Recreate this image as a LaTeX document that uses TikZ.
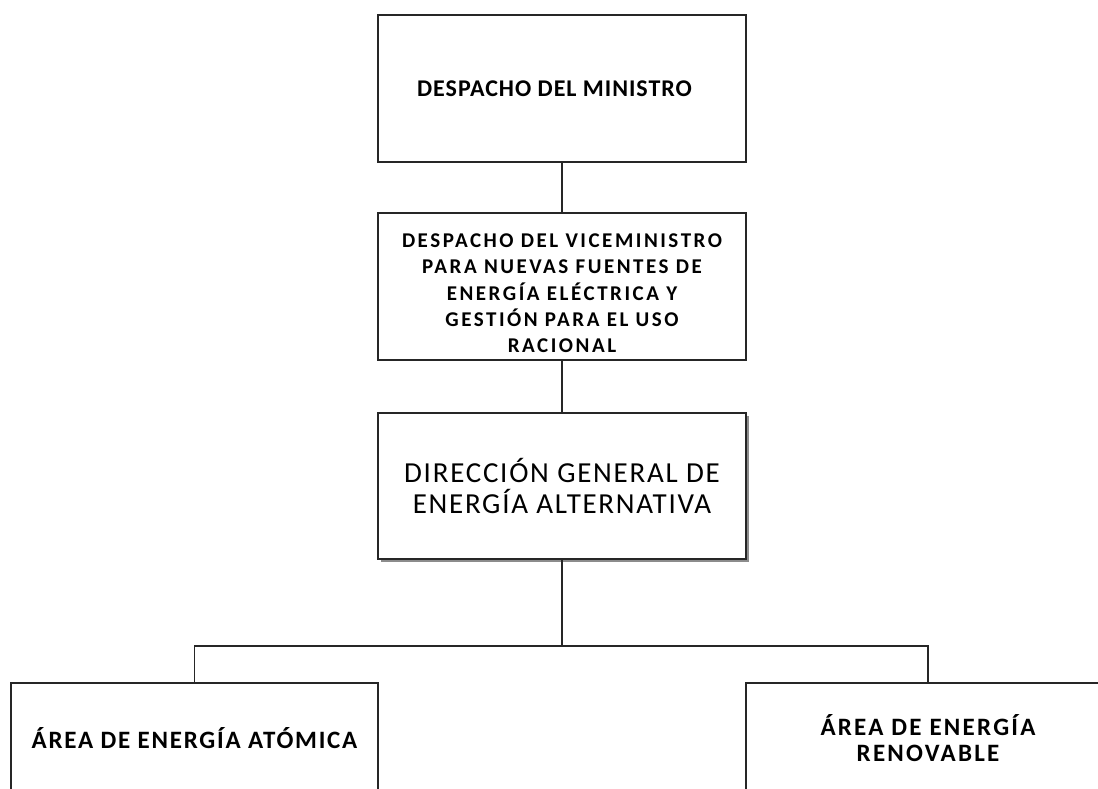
\documentclass[tikz,border=0pt]{standalone}
\usepackage{fontspec}
\setmainfont{Carlito}
\usetikzlibrary{shadows}
\begin{document}
\begin{tikzpicture}[x=1pt,y=-1pt,
  box/.style={draw=black!85,line width=1.6pt,fill=white,align=center,inner sep=0pt},
  conn/.style={draw=black!85,line width=1.6pt},
  sh/.style={drop shadow={shadow xshift=3pt,shadow yshift=-3pt,fill=black!45,opacity=1}}]
\useasboundingbox (0,0) rectangle (1098,788);
\clip (0,0) rectangle (1098,788);
\node[box,minimum width=368pt,minimum height=147pt,
  font={\fontsize{24}{28}\selectfont\bfseries\addfontfeature{LetterSpace=4}}] (m) at (562,88.5)
  {DESPACHO DEL MINISTRO\hspace*{15pt}};
\node[box,minimum width=368pt,minimum height=147pt,
  font={\fontsize{21}{26.3}\selectfont\bfseries\addfontfeature{LetterSpace=12}}] (v) at (562,286.5)
  {\rule{0pt}{27.5pt}DESPACHO DEL VICEMINISTRO\\PARA NUEVAS FUENTES DE\\ENERGÍA ELÉCTRICA Y\\GESTIÓN PARA EL USO\\RACIONAL};
\node[box,sh,minimum width=368pt,minimum height=146pt,
  font={\fontsize{29}{31.5}\selectfont\addfontfeature{LetterSpace=6}}] (d) at (562,486)
  {DIRECCIÓN GENERAL DE\\ENERGÍA ALTERNATIVA};
\node[box,minimum width=367pt,minimum height=110pt,
  font={\fontsize{25}{27}\selectfont\bfseries\addfontfeature{LetterSpace=7}}] (a) at (194.5,738)
  {ÁREA DE ENERGÍA ATÓMICA};
\node[box,minimum width=364pt,minimum height=110pt,
  font={\fontsize{25}{26}\selectfont\bfseries\addfontfeature{LetterSpace=9}}] (r) at (928,738)
  {ÁREA DE ENERGÍA\\RENOVABLE};
\coordinate (j) at (562,646);
\draw[conn] (m.south) -- (v.north);
\draw[conn] (v.south) -- (d.north);
\draw[conn] (d.south) -- (j);
\draw[conn] (a.north) |- (j) -| (r.north);
\end{tikzpicture}
\end{document}
